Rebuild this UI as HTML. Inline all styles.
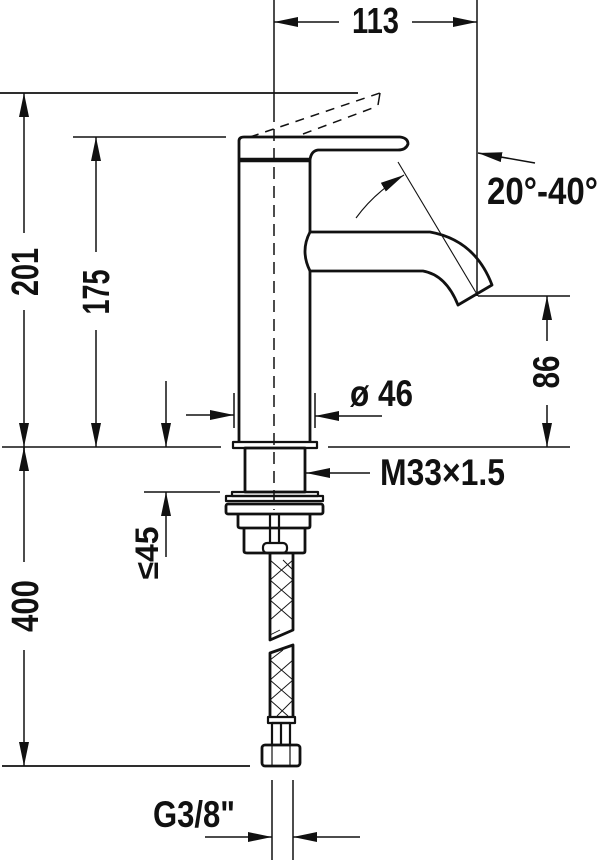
<!DOCTYPE html>
<html><head><meta charset="utf-8"><style>html,body{margin:0;padding:0;background:#fff}svg{display:block}text{font-family:"Liberation Sans Narrow","Liberation Sans",sans-serif;font-weight:bold;fill:#111}</style></head><body>
<svg width="600" height="860" viewBox="0 0 600 860" xmlns="http://www.w3.org/2000/svg">
<defs>
<marker id="a" viewBox="0 0 24 10" refX="24" refY="5" markerWidth="24" markerHeight="10" markerUnits="userSpaceOnUse" orient="auto"><path d="M0,0 L24,5 L0,10 Z" fill="#111"/></marker>
</defs>
<g stroke="#111" fill="none" stroke-width="1.5">
<line x1="274" y1="0" x2="274" y2="110"/>
<line x1="274" y1="110" x2="274" y2="510" stroke-dasharray="12,7"/>
<line x1="477" y1="0" x2="477" y2="296"/>
<line x1="0" y1="93" x2="358" y2="93" stroke-width="1.8"/>
<line x1="73" y1="137" x2="226" y2="137"/>
<line x1="2" y1="447" x2="221" y2="447"/>
<line x1="328" y1="447" x2="570" y2="447"/>
<line x1="478" y1="296" x2="570" y2="296"/>
<line x1="144" y1="492" x2="220" y2="492"/>
<line x1="2" y1="766" x2="250" y2="766" stroke-width="1.8"/>
<line x1="272" y1="780" x2="272" y2="860"/>
<line x1="293" y1="780" x2="293" y2="860"/>
<line x1="339" y1="22" x2="274" y2="22" marker-end="url(#a)"/>
<line x1="412" y1="22" x2="477" y2="22" marker-end="url(#a)"/>
<line x1="24" y1="233" x2="24" y2="93" marker-end="url(#a)"/>
<line x1="24" y1="310" x2="24" y2="447" marker-end="url(#a)"/>
<line x1="24" y1="447" x2="24" y2="456"/>
<line x1="96" y1="252" x2="96" y2="137" marker-end="url(#a)"/>
<line x1="96" y1="330" x2="96" y2="447" marker-end="url(#a)"/>
<line x1="166" y1="381" x2="166" y2="447" marker-end="url(#a)"/>
<line x1="234" y1="393" x2="234" y2="428"/>
<line x1="315" y1="393" x2="315" y2="428"/>
<line x1="186" y1="415" x2="234" y2="415" marker-end="url(#a)"/>
<line x1="382" y1="416" x2="315" y2="416" marker-end="url(#a)"/>
<line x1="370" y1="473" x2="306" y2="473" marker-end="url(#a)"/>
<line x1="547" y1="341" x2="547" y2="296" marker-end="url(#a)"/>
<line x1="547" y1="405" x2="547" y2="447" marker-end="url(#a)"/>
<line x1="166" y1="557" x2="166" y2="492" marker-end="url(#a)"/>
<line x1="24" y1="562" x2="24" y2="447" marker-end="url(#a)"/>
<line x1="24" y1="650" x2="24" y2="766" marker-end="url(#a)"/>
<line x1="205" y1="837" x2="272" y2="837" marker-end="url(#a)"/>
<line x1="360" y1="837" x2="293" y2="837" marker-end="url(#a)"/>
<line x1="535" y1="163" x2="478" y2="153" marker-end="url(#a)"/>
<line x1="398" y1="162" x2="478" y2="296" stroke-width="1.1"/>
<path d="M356,218 Q375,192 404,175" marker-end="url(#a)" stroke-width="1.1"/>
<line x1="250" y1="137" x2="380" y2="93" stroke-dasharray="9,7"/>
<line x1="303" y1="134" x2="378" y2="106" stroke-dasharray="9,7"/>
<line x1="380" y1="93" x2="378" y2="105"/>
</g>
<g stroke="#111" fill="none" stroke-width="2.8" stroke-linejoin="round">
<path d="M239,443 L239,141 Q239,137 244,137 L400,137 Q408,138 408,144 Q406,150 398,150 L318,150 Q311,151 310,160 L310,232 L430,232 Q475,240 492,285 L458,305 Q446,275 423,271 L310,271 L310,443"/>
<line x1="239" y1="160" x2="310" y2="160" stroke-width="4.5"/>
<path d="M310,232 Q300,251 310,271"/>
<rect x="233" y="442" width="84" height="6" stroke-width="2.2"/>
<rect x="245" y="448" width="60" height="44"/>
<rect x="232" y="492" width="86" height="4" stroke-width="2.2"/>
<rect x="226" y="496" width="97" height="5" stroke-width="2.2"/>
<rect x="226" y="504" width="97" height="10" rx="2"/>
<path d="M238,514 L238,526 Q238,528 241,528 L308,528 Q310,528 310,526 L310,514"/>
<path d="M244,528 L244,551 Q244,553 247,553 L303,553 Q305,553 305,551 L305,528"/>
<line x1="270" y1="514" x2="270" y2="543" stroke-width="2.2"/>
<line x1="279" y1="514" x2="279" y2="543" stroke-width="2.2"/>
<rect x="263" y="543" width="24" height="10" rx="4" stroke-width="2.2"/>
<path d="M270,553 L270,640 L293,630 L293,553"/>
<path d="M270,717 L270,653 L293,645 L293,717"/>
<rect x="268" y="717" width="27" height="6" stroke-width="2.2"/>
<rect x="272" y="723" width="18" height="22" stroke-width="2.2"/>
<line x1="281" y1="723" x2="281" y2="745" stroke-width="2.2"/>
<rect x="262" y="745" width="38" height="21" rx="3"/>
<line x1="272" y1="745" x2="272" y2="766" stroke-width="1.2"/>
<line x1="290" y1="745" x2="290" y2="766" stroke-width="1.2"/>
</g>
<g stroke="#111" stroke-width="0.9" fill="none">
<path d="M270,560 L293,580 L270,600 L293,620 M293,560 L270,580 L293,600 L270,620 M270,635 L280,630 M293,570 L283,560"/>
<path d="M270,660 L293,680 L270,700 L288,716 M293,660 L270,680 L293,700 L277,716 M283,650 L270,660"/>
</g>
<text x="352" y="33" font-size="36" textLength="47" lengthAdjust="spacingAndGlyphs">113</text>
<text x="487" y="204" font-size="38" textLength="111" lengthAdjust="spacingAndGlyphs">20°-40°</text>
<text x="350" y="406" font-size="37" textLength="63" lengthAdjust="spacingAndGlyphs">ø 46</text>
<text x="380" y="485" font-size="37" textLength="125" lengthAdjust="spacingAndGlyphs">M33×1.5</text>
<text x="153" y="827" font-size="37" textLength="82" lengthAdjust="spacingAndGlyphs">G3/8"</text>
<text transform="translate(38,272) rotate(-90)" text-anchor="middle" font-size="38" textLength="48" lengthAdjust="spacingAndGlyphs">201</text>
<text transform="translate(109,292) rotate(-90)" text-anchor="middle" font-size="38" textLength="45" lengthAdjust="spacingAndGlyphs">175</text>
<text transform="translate(559,372) rotate(-90)" text-anchor="middle" font-size="37" textLength="33" lengthAdjust="spacingAndGlyphs">86</text>
<text transform="translate(38,606) rotate(-90)" text-anchor="middle" font-size="38" textLength="52" lengthAdjust="spacingAndGlyphs">400</text>
<text transform="translate(158,553) rotate(-90)" text-anchor="middle" font-size="32" textLength="53" lengthAdjust="spacingAndGlyphs">≤45</text>
</svg>
</body></html>
